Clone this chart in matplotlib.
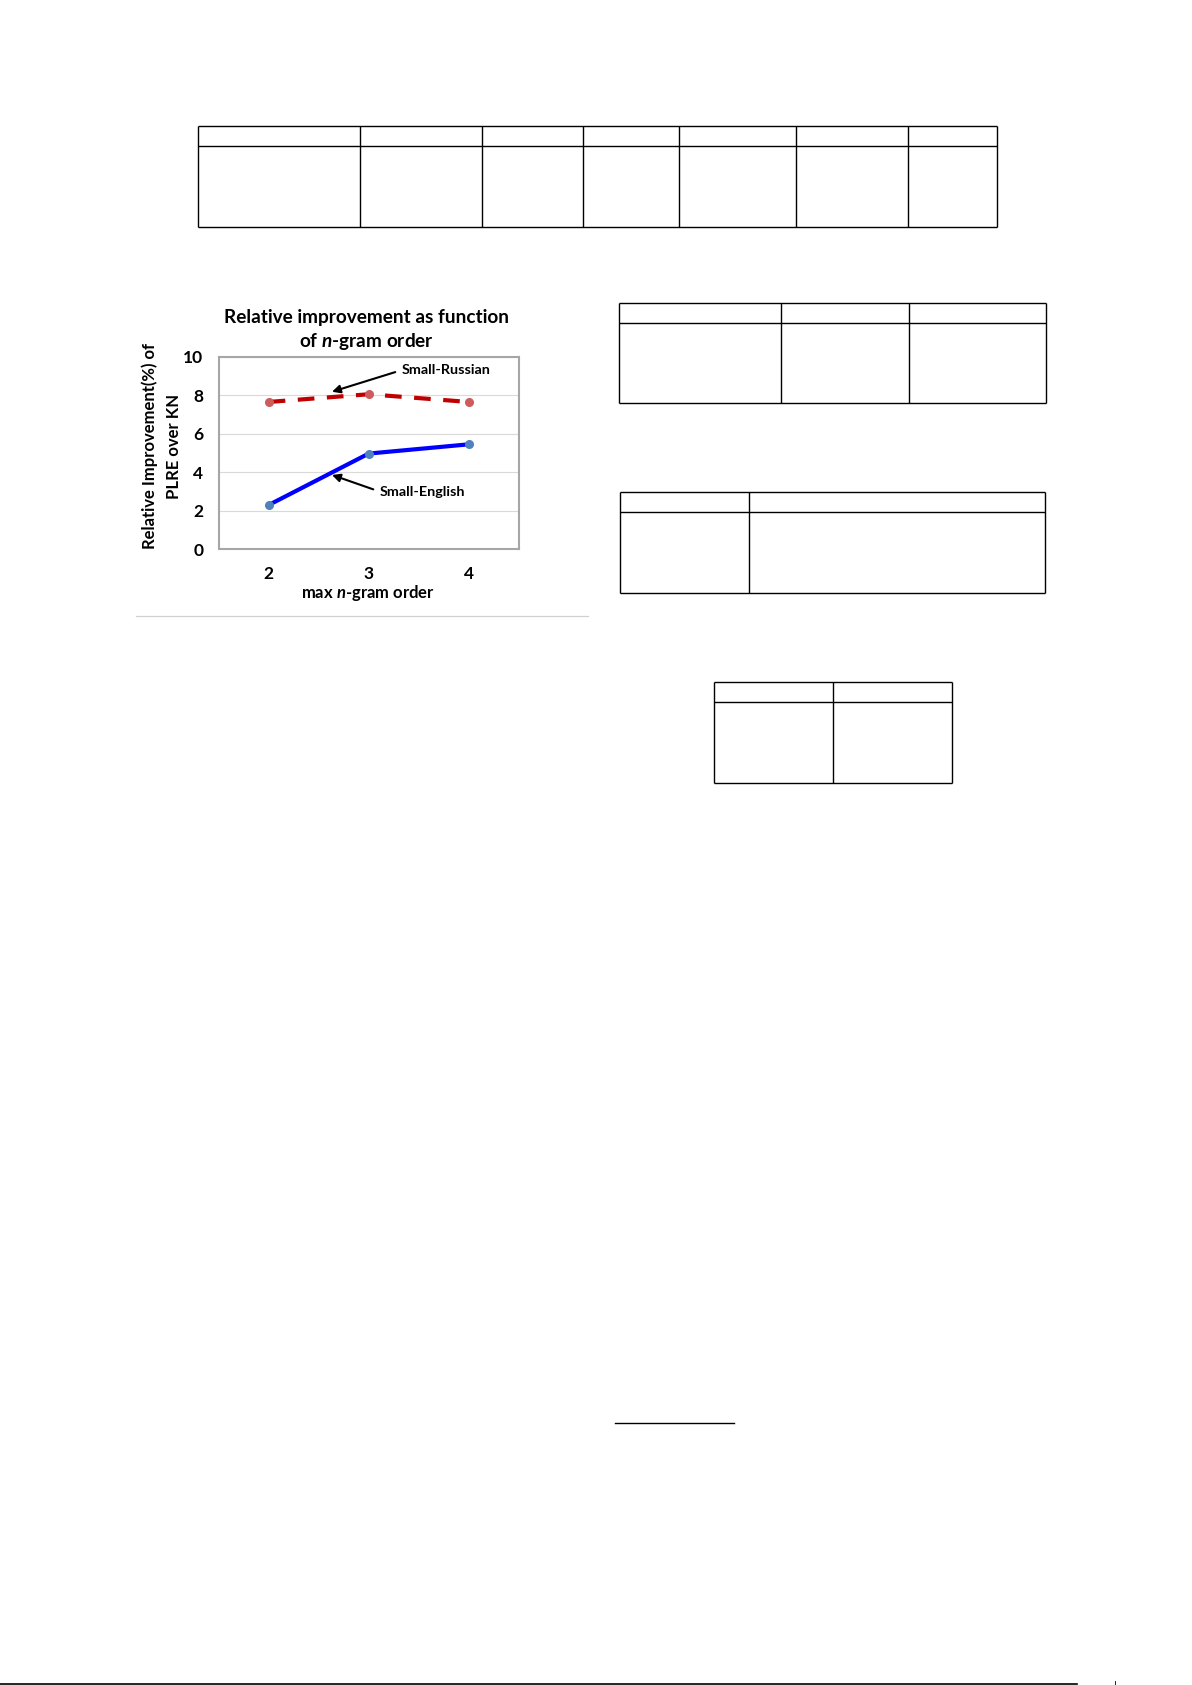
import matplotlib
matplotlib.use("Agg")
import matplotlib.pyplot as plt

plt.rcParams['font.family'] = ['Lato', 'DejaVu Sans']
plt.rcParams['font.weight'] = 'bold'
plt.rcParams['mathtext.fontset'] = 'custom'
plt.rcParams['mathtext.rm'] = 'Lato:bold'
plt.rcParams['mathtext.it'] = 'Lato:italic:bold'

# data
orders = [2, 3, 4]
small_russian = [7.65, 8.05, 7.65]
small_english = [2.3, 4.97, 5.45]
yticks = [0, 2, 4, 6, 8, 10]

# empty tables on the page (pixel edges)
tables = [
    ([198.3, 360.3, 482.3, 583.3, 679.3, 796.3, 908.3, 997.3], [126.3, 146.0, 227.0]),
    ([619.3, 781.3, 909.3, 1046.3], [302.7, 323.3, 403.3]),
    ([620.3, 749.3, 1045.3], [492.3, 512.3, 593.3]),
    ([713.7, 833.3, 952.3], [681.7, 702.3, 783.3]),
]

W, H = 1192, 1685
fig = plt.figure(figsize=(W / 100, H / 100), dpi=100)

# page layer
page = fig.add_axes([0, 0, 1, 1], zorder=0)
page.set_xlim(0, W)
page.set_ylim(H, 0)
page.axis('off')
for xs, ys in tables:
    for y in ys:
        page.plot([xs[0], xs[-1]], [y, y], color='black', lw=1.0, solid_capstyle='butt')
    for x in xs:
        page.plot([x, x], [ys[0], ys[-1]], color='black', lw=1.0, solid_capstyle='butt')
page.plot([615, 733.7], [1423.3, 1423.3], color='black', lw=1.0)
page.plot([0, 1077], [1684, 1684], color='black', lw=1.2)
page.plot([1115, 1115], [1681, 1685], color='black', lw=0.6)
page.plot([136, 588], [616, 616], color='#d0d0d0', lw=0.9)

# chart
ax = fig.add_axes([218.7 / W, 1 - 549.3 / H, 300 / W, 192.6 / H], zorder=1)
ax.set_xlim(1.5, 4.5)
ax.set_ylim(0, 10)
ax.set_xticks(orders)
ax.set_yticks(yticks)
ax.set_xticklabels([str(o) for o in orders], fontweight='bold')
ax.set_yticklabels([str(t) for t in yticks], fontweight='bold')
ax.tick_params(axis='y', length=0, labelsize=12.5, pad=11)
ax.tick_params(axis='x', length=0, labelsize=12.5, pad=12)
ax.grid(axis='y', color='#d9d9d9', lw=0.8)
ax.set_axisbelow(True)
for s in ax.spines.values():
    s.set_color('#a6a6a6')
    s.set_linewidth(1.5)

ax.plot(orders, small_russian, color='#c00000', lw=3, dashes=(4, 3),
        marker='o', ms=5.5, mfc='#cd5c5c', mec='#cd5c5c')
ax.plot(orders, small_english, color='#0000ff', lw=3,
        marker='o', ms=5.5, mfc='#4f81bd', mec='#4f81bd')

arrow = dict(arrowstyle='-|>', color='black', lw=1.5, mutation_scale=12,
             relpos=(0, 0.5), shrinkA=3, shrinkB=0)
ax.annotate('Small-Russian', xy=(2.633, 8.18), xytext=(3.333, 9.31),
            fontsize=10.4, ha='left', va='center', arrowprops=arrow)
ax.annotate('Small-English', xy=(2.633, 3.86), xytext=(3.113, 2.99),
            fontsize=10.4, ha='left', va='center', arrowprops=arrow)

fig.text(366.7 / W, 1 - 317.7 / H, 'Relative improvement as function',
         fontsize=13.7, ha='center', va='center')
fig.text(366.7 / W, 1 - 341.7 / H, r'of $\mathit{n}$-gram order',
         fontsize=13.7, ha='center', va='center')
fig.text(368 / W, 1 - 593 / H, r'max $\mathit{n}$-gram order',
         fontsize=12, ha='center', va='center')
fig.text(162 / W, 1 - 446 / H, 'Relative Improvement(%) of\nPLRE over KN',
         fontsize=12, ha='center', va='center', rotation=90,
         multialignment='center', linespacing=1.6)

fig.savefig('out.png', dpi=100)
